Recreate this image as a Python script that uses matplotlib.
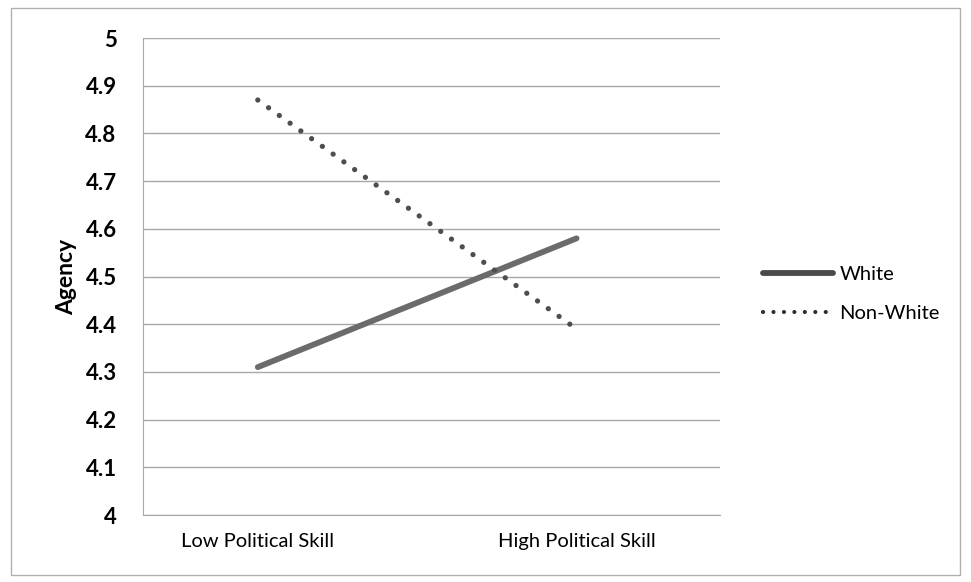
import matplotlib
matplotlib.use("Agg")
import matplotlib.pyplot as plt
from matplotlib.lines import Line2D
from matplotlib.patches import Rectangle

categories = ["Low Political Skill", "High Political Skill"]
white = [4.31, 4.58]
non_white = [4.87, 4.39]
yticks = [4.0, 4.1, 4.2, 4.3, 4.4, 4.5, 4.6, 4.7, 4.8, 4.9, 5.0]
ytick_labels = ["4", "4.1", "4.2", "4.3", "4.4", "4.5", "4.6", "4.7", "4.8", "4.9", "5"]

plt.rcParams["font.family"] = ["Lato", "DejaVu Sans"]

fig = plt.figure(figsize=(9.71, 5.82), dpi=100)
ax = fig.add_axes([0.1473, 0.1151, 0.5942, 0.8196])

x = list(range(len(categories)))
ax.plot(x, white, color="#6b6b6b", lw=4.2, solid_capstyle="round", zorder=3)
ax.plot(x, non_white, color="#4e4e4e", lw=3.8, linestyle=(0, (0.01, 2.5)),
        dash_capstyle="round", zorder=3)

ax.set_ylim(4.0, 5.0)
ax.set_xlim(-0.36, 1.45)
ax.set_yticks(yticks)
ax.set_yticklabels(ytick_labels, fontsize=16, fontweight="bold")
ax.set_xticks(x)
ax.set_xticklabels(categories, fontsize=14.5)
ax.tick_params(axis="x", length=0, pad=13)
ax.tick_params(axis="y", length=0, pad=19)
ax.yaxis.grid(True, color="#a8a8a8", lw=1.0)
ax.set_axisbelow(True)
for s in ["top", "right"]:
    ax.spines[s].set_visible(False)
ax.spines["bottom"].set_color("#a8a8a8")
ax.spines["left"].set_color("#a8a8a8")
ax.set_ylabel("Agency", fontsize=16.5, fontweight="bold", labelpad=6)

handles = [
    Line2D([], [], color="#4a4a4a", lw=4.2, solid_capstyle="round"),
    Line2D([], [], color="#2e2e2e", lw=3.0, linestyle=(0, (0.01, 2.5)), dash_capstyle="round"),
]
fig.legend(handles, ["White", "Non-White"], loc="center left",
           bbox_to_anchor=(0.767, 0.495), frameon=False, fontsize=14.5,
           handlelength=3.5, handletextpad=0.3, labelspacing=1.05)

fig.patches.append(Rectangle((0.011, 0.012), 0.978, 0.975, transform=fig.transFigure,
                             fill=False, edgecolor="#b0b0b0", lw=1.0))

fig.savefig("out.png", dpi=100)
